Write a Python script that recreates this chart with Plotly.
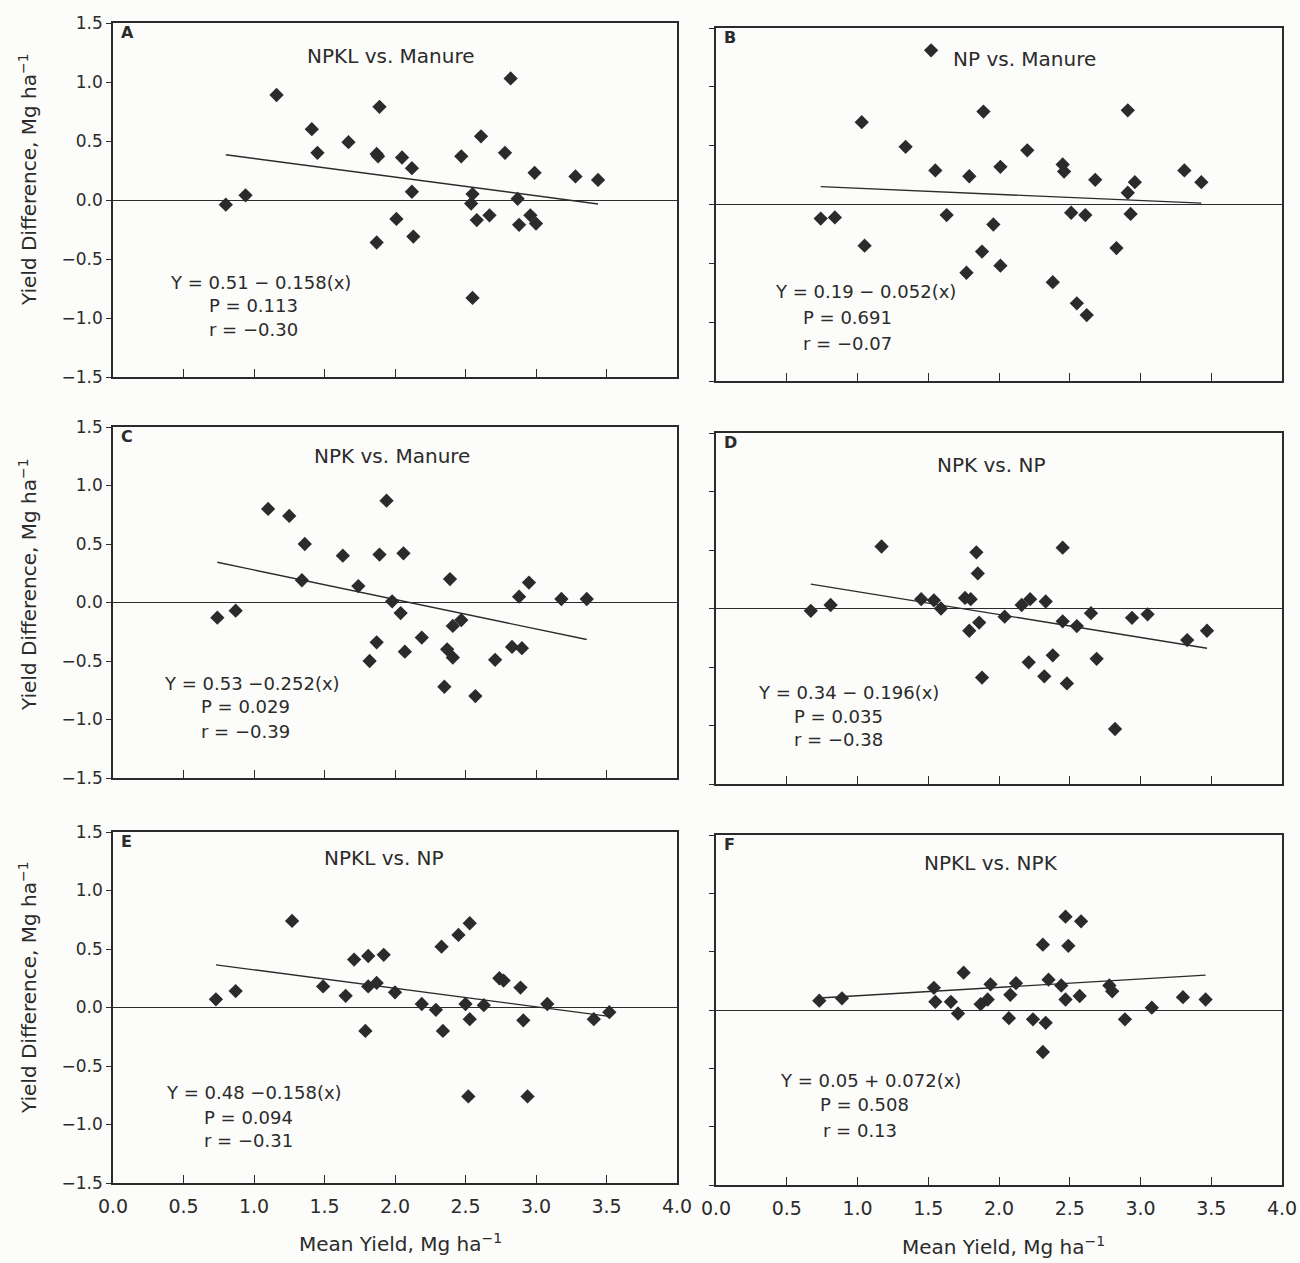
import plotly.graph_objects as go

# ---------------- data ----------------
panel_letters = ["A", "B", "C", "D", "E", "F"]
panel_titles = ["NPKL vs. Manure", "NP vs. Manure", "NPK vs. Manure",
                "NPK vs. NP", "NPKL vs. NP", "NPKL vs. NPK"]

a_x = [0.80, 0.94, 1.16, 1.41, 1.45, 1.67, 1.89, 1.87, 1.88, 2.05, 2.12, 2.12, 2.01, 1.87, 2.13,
       2.47, 2.61, 2.78, 2.99, 3.28, 3.44, 2.55, 2.54, 2.58, 2.67, 2.87, 2.88, 2.96, 3.00, 2.55, 2.82]
a_y = [-0.04, 0.04, 0.89, 0.60, 0.40, 0.49, 0.79, 0.39, 0.37, 0.36, 0.27, 0.07, -0.16, -0.36, -0.31,
       0.37, 0.54, 0.40, 0.23, 0.20, 0.17, 0.05, -0.03, -0.17, -0.13, 0.01, -0.21, -0.13, -0.20, -0.83, 1.03]

b_x = [1.52, 1.89, 2.91, 1.03, 1.34, 2.20, 1.55, 1.79, 2.01, 2.45, 2.46, 2.68, 2.96, 2.91, 3.31, 3.43,
       0.74, 0.84, 1.63, 1.96, 2.51, 2.61, 2.93, 1.05, 1.88, 2.01, 1.77, 2.83, 2.38, 2.55, 2.62]
b_y = [1.31, 0.79, 0.80, 0.70, 0.49, 0.46, 0.29, 0.24, 0.32, 0.34, 0.28, 0.21, 0.19, 0.10, 0.29, 0.19,
       -0.12, -0.11, -0.09, -0.17, -0.07, -0.09, -0.08, -0.35, -0.40, -0.52, -0.58, -0.37, -0.66, -0.84, -0.94]

c_x = [0.74, 0.87, 1.10, 1.25, 1.36, 1.34, 1.63, 1.74, 1.89, 2.06, 1.94, 1.98, 2.04, 1.87, 1.82, 2.07,
       2.19, 2.39, 2.41, 2.47, 2.37, 2.41, 2.35, 2.57, 2.71, 2.83, 2.90, 2.88, 2.95, 3.18, 3.36]
c_y = [-0.13, -0.07, 0.80, 0.74, 0.50, 0.19, 0.40, 0.14, 0.41, 0.42, 0.87, 0.01, -0.09, -0.34, -0.50, -0.42,
       -0.30, 0.20, -0.20, -0.15, -0.40, -0.47, -0.72, -0.80, -0.49, -0.38, -0.39, 0.05, 0.17, 0.03, 0.03]

d_x = [0.67, 0.81, 1.17, 1.45, 1.54, 1.59, 1.76, 1.80, 1.84, 1.85, 1.86, 1.79, 1.88, 2.04, 2.16, 2.22,
       2.33, 2.45, 2.45, 2.55, 2.21, 2.38, 2.32, 2.48, 2.65, 2.69, 2.82, 2.94, 3.05, 3.33, 3.47]
d_y = [-0.02, 0.03, 0.53, 0.08, 0.07, 0.00, 0.09, 0.08, 0.48, 0.30, -0.12, -0.19, -0.59, -0.07, 0.03, 0.08,
       0.06, 0.52, -0.11, -0.15, -0.46, -0.40, -0.58, -0.64, -0.04, -0.43, -1.03, -0.08, -0.05, -0.27, -0.19]

e_x = [0.73, 0.87, 1.27, 1.49, 1.65, 1.71, 1.81, 1.81, 1.87, 1.92, 2.00, 1.79, 2.19, 2.29, 2.33,
       2.34, 2.45, 2.53, 2.50, 2.53, 2.63, 2.74, 2.77, 2.89, 2.91, 3.08, 3.41, 3.52, 2.52, 2.94]
e_y = [0.07, 0.14, 0.74, 0.18, 0.10, 0.41, 0.44, 0.18, 0.21, 0.45, 0.13, -0.20, 0.03, -0.02, 0.52,
       -0.20, 0.62, 0.72, 0.03, -0.10, 0.02, 0.25, 0.23, 0.17, -0.11, 0.03, -0.10, -0.04, -0.76, -0.76]

f_x = [0.73, 0.89, 1.54, 1.55, 1.66, 1.71, 1.75, 1.87, 1.92, 1.94, 2.07, 2.08, 2.12, 2.24, 2.31,
       2.33, 2.31, 2.35, 2.44, 2.47, 2.49, 2.47, 2.58, 2.57, 2.78, 2.80, 2.89, 3.08, 3.30, 3.46]
f_y = [0.08, 0.10, 0.19, 0.07, 0.07, -0.03, 0.32, 0.05, 0.09, 0.22, -0.07, 0.13, 0.23, -0.08, 0.56,
       -0.11, -0.36, 0.26, 0.21, 0.80, 0.55, 0.09, 0.76, 0.12, 0.21, 0.16, -0.08, 0.02, 0.11, 0.09]

intercepts = [0.51, 0.19, 0.53, 0.34, 0.48, 0.05]
slopes = [-0.158, -0.052, -0.252, -0.196, -0.158, 0.072]
eq_labels = ["Y = 0.51 \u2212 0.158(x)", "Y = 0.19 \u2212 0.052(x)", "Y = 0.53 \u22120.252(x)",
             "Y = 0.34 \u2212 0.196(x)", "Y = 0.48 \u22120.158(x)", "Y = 0.05 + 0.072(x)"]
p_labels = ["P = 0.113", "P = 0.691", "P = 0.029", "P = 0.035", "P = 0.094", "P = 0.508"]
r_labels = ["r = \u22120.30", "r = \u22120.07", "r = \u22120.39", "r = \u22120.38", "r = \u22120.31", "r = 0.13"]

x_ticks = [0.0, 0.5, 1.0, 1.5, 2.0, 2.5, 3.0, 3.5, 4.0]
y_ticks = [-1.5, -1.0, -0.5, 0.0, 0.5, 1.0, 1.5]

xs = [a_x, b_x, c_x, d_x, e_x, f_x]
ys = [a_y, b_y, c_y, d_y, e_y, f_y]

# ---------------- layout geometry (pixels) ----------------
W, H = 1300, 1263
col_px = [(113, 677), (716, 1282)]
row_px = [[(23, 377), (28, 381)], [(427, 778), (433, 784)], [(832, 1183), (835, 1185)]]

# annotation positions in data units: (eq x, eq y, p x, p y, r x, r y), title (x, y)
stat_pos = [(0.39, -0.70, 0.665, -0.89, 0.665, -1.10),
            (0.40, -0.74, 0.60, -0.96, 0.60, -1.18),
            (0.35, -0.69, 0.61, -0.89, 0.61, -1.10),
            (0.28, -0.72, 0.54, -0.92, 0.54, -1.12),
            (0.36, -0.73, 0.63, -0.94, 0.63, -1.14),
            (0.44, -0.60, 0.72, -0.81, 0.745, -1.03)]
title_pos = [(1.97, 1.22), (2.18, 1.24), (1.98, 1.25), (1.95, 1.23), (1.92, 1.28), (1.94, 1.26)]

FONT = "DejaVu Sans"
INK = "#2b2b2b"

fig = go.Figure()
annotations = []
layout_axes = {}

for i in range(6):
    row, col = divmod(i, 2)
    n = "" if i == 0 else str(i + 1)
    xa, ya = "x" + n, "y" + n
    x0, x1 = col_px[col]
    y0, y1 = row_px[row][col]

    fig.add_trace(go.Scatter(
        x=xs[i], y=ys[i], mode="markers", xaxis=xa, yaxis=ya,
        marker=dict(symbol="diamond", size=11, color=INK), showlegend=False,
        hoverinfo="x+y"))

    lo, hi = min(xs[i]), max(xs[i])
    fig.add_trace(go.Scatter(
        x=[lo, hi], y=[intercepts[i] + slopes[i] * lo, intercepts[i] + slopes[i] * hi],
        mode="lines", xaxis=xa, yaxis=ya, line=dict(color=INK, width=1.4),
        showlegend=False, hoverinfo="skip"))

    layout_axes["xaxis" + n] = dict(
        domain=[x0 / W, x1 / W], range=[0, 4], anchor=ya, automargin=False,
        tickvals=x_ticks, tickformat=".1f", ticks="inside", ticklen=8,
        tickcolor=INK, tickwidth=1.2, ticklabelstandoff=5,
        showticklabels=(row == 2), showline=True, mirror=True,
        linecolor=INK, linewidth=1.5, showgrid=False, zeroline=False,
        tickfont=dict(family=FONT, size=19, color=INK))
    layout_axes["yaxis" + n] = dict(
        domain=[1 - y1 / H, 1 - y0 / H], range=[-1.5, 1.5], anchor=xa, automargin=False,
        tickvals=y_ticks, tickformat=".1f", ticks="outside", ticklen=5,
        tickcolor=INK, tickwidth=1.2,
        showticklabels=(col == 0), showline=True, mirror=True,
        linecolor=INK, linewidth=1.5, showgrid=False,
        zeroline=True, zerolinecolor=INK, zerolinewidth=1.3,
        tickfont=dict(family=FONT, size=17, color=INK))

    tf = dict(family=FONT, size=18, color=INK)
    annotations.append(dict(xref=xa, yref=ya, x=0.04, y=1.42, text="<b>" + panel_letters[i] + "</b>",
                            showarrow=False, xanchor="left", yanchor="middle",
                            font=dict(family=FONT, size=16, color=INK)))
    annotations.append(dict(xref=xa, yref=ya, x=title_pos[i][0], y=title_pos[i][1], text=panel_titles[i],
                            showarrow=False, xanchor="center", yanchor="middle",
                            font=dict(family=FONT, size=20, color=INK)))
    sp = stat_pos[i]
    for txt, px, py in [(eq_labels[i], sp[0], sp[1]), (p_labels[i], sp[2], sp[3]), (r_labels[i], sp[4], sp[5])]:
        annotations.append(dict(xref=xa, yref=ya, x=px, y=py, text=txt, showarrow=False,
                                xanchor="left", yanchor="middle", font=tf))

# axis titles as annotations
ytitle = "Yield Difference, Mg ha<sup>\u22121</sup>"
for yc in [180, 585, 988]:
    annotations.append(dict(xref="paper", yref="paper", x=28 / W, y=1 - yc / H, text=ytitle,
                            textangle=-90, showarrow=False, xanchor="center", yanchor="middle",
                            font=dict(family=FONT, size=20, color=INK)))
xtitle = "Mean Yield, Mg ha<sup>\u22121</sup>"
for xc, yc in [(400, 1243), (1003, 1246)]:
    annotations.append(dict(xref="paper", yref="paper", x=xc / W, y=1 - yc / H, text=xtitle,
                            showarrow=False, xanchor="center", yanchor="middle",
                            font=dict(family=FONT, size=20, color=INK)))

fig.update_layout(
    width=W, height=H, margin=dict(l=0, r=0, t=0, b=0, autoexpand=False),
    paper_bgcolor="#fcfcfa", plot_bgcolor="#fcfcfa",
    annotations=annotations, showlegend=False,
    **layout_axes)

fig.write_html("out.html", config={"displayModeBar": False},
               post_script="document.body.style.margin='0';document.body.style.overflow='hidden';")
